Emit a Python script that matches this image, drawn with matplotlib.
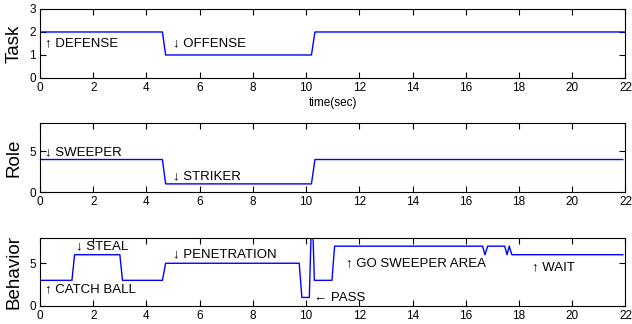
import numpy as np
import matplotlib
matplotlib.use('Agg')
import matplotlib.pyplot as plt

plt.rcParams['font.family'] = ['Liberation Sans', 'DejaVu Sans']
plt.rcParams['xtick.direction'] = 'in'
plt.rcParams['ytick.direction'] = 'in'
plt.rcParams['xtick.top'] = True
plt.rcParams['ytick.right'] = True

# task level over time
task_t = [0, 4.6, 4.72, 10.2, 10.33, 22]
task_v = [2, 2, 1, 1, 2, 2]

# role level over time
role_t = [0, 4.6, 4.72, 10.2, 10.33, 21.9]
role_v = [4, 4, 1, 1, 4, 4]

# behavior level over time
beh_t = [0, 1.2, 1.3, 3.0, 3.1, 4.6, 4.72, 9.74, 9.84, 10.12, 10.2, 10.24, 10.31,
         10.97, 11.07, 16.63, 16.72, 16.82, 17.46, 17.55, 17.63, 17.73, 21.9]
beh_v = [3, 3, 6, 6, 3, 3, 5, 5, 1, 1, 10, 10, 3,
         3, 7, 7, 6, 7, 7, 6, 7, 6, 6]

task_notes = [(0.2, 1.52, '\u2191 DEFENSE'), (5.0, 1.52, '\u2193 OFFENSE')]
role_notes = [(0.2, 4.95, '\u2193 SWEEPER'), (5.0, 1.9, '\u2193 STRIKER')]
beh_notes = [(0.2, 2.0, '\u2191 CATCH BALL'), (1.35, 7.0, '\u2193 STEAL'),
             (5.0, 6.1, '\u2193 PENETRATION'), (10.3, 0.97, '\u2190 PASS'),
             (11.5, 5.0, '\u2191 GO SWEEPER AREA'), (18.5, 4.5, '\u2191 WAIT')]

fig = plt.figure(figsize=(6.32, 3.24), dpi=100)
left, width = 0.0633, 0.9264
ax1 = fig.add_axes([left, 0.7593, width, 0.213])
ax2 = fig.add_axes([left, 0.4074, width, 0.213])
ax3 = fig.add_axes([left, 0.0556, width, 0.211])

panels = [
    (ax1, task_t, task_v, task_notes, 'Task', (0, 3), [0, 1, 2, 3]),
    (ax2, role_t, role_v, role_notes, 'Role', (0, 8.5), [0, 5]),
    (ax3, beh_t, beh_v, beh_notes, 'Behavior', (0, 8), [0, 5]),
]
for ax, t, v, notes, name, ylim, yt in panels:
    ax.plot(t, v, color='#0000ff', lw=1)
    ax.set_xlim(0, 22)
    ax.set_ylim(*ylim)
    ax.set_xticks(np.arange(0, 23, 2))
    ax.set_yticks(yt)
    ax.tick_params(labelsize=8.5, length=4, pad=3)
    ax.set_ylabel(name, fontsize=13.5, labelpad=5)
    for x, y, s in notes:
        ax.text(x, y, s, fontsize=9.5, va='center', ha='left')

ax1.set_xlabel('time(sec)', fontsize=8.5, labelpad=2)

fig.savefig('out.png', dpi=100)
